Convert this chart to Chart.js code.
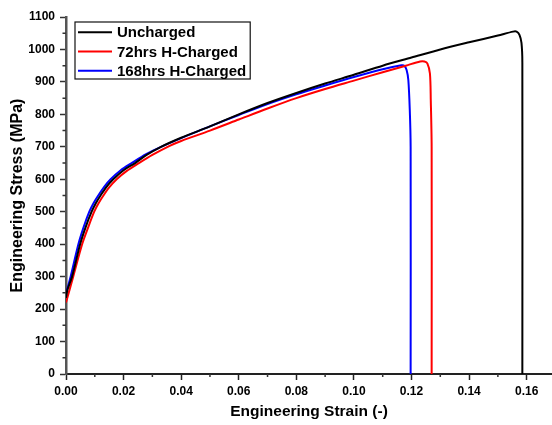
<!DOCTYPE html>
<html>
<head>
<meta charset="utf-8">
<script src="https://cdn.jsdelivr.net/npm/chart.js@4.4.0/dist/chart.umd.min.js"></script>
<style>
  html, body { margin: 0; padding: 0; background: #fff; }
  #wrap { width: 552px; height: 425px; }
</style>
</head>
<body>
<div id="wrap"><canvas id="stressChart" width="552" height="425"></canvas></div>
<script>
// --- Data ---
const SERIES_LABELS = ['Uncharged', '72hrs H-Charged', '168hrs H-Charged'];
const SERIES_COLORS = ['#000000', '#ff0000', '#0000ff'];

const unchargedStrain = [0, 0.0005, 0.0021, 0.0049, 0.0068, 0.0089, 0.0104, 0.012, 0.014, 0.0164, 0.020, 0.024,
    0.028, 0.033, 0.040, 0.050, 0.060, 0.070, 0.080, 0.090, 0.100, 0.110, 0.120, 0.130, 0.140, 0.150,
    0.1553, 0.1565, 0.1575, 0.1582, 0.1585, 0.1585];
const unchargedStress = [235, 260, 300, 400, 452, 500, 527, 550, 576, 600, 628, 650,
    675, 700, 728, 763, 800, 835, 866, 895, 922, 950, 975, 1000, 1022, 1043,
    1055, 1055, 1045, 1020, 960, 0];

const charged72Strain = [0, 0.0025, 0.0056, 0.0077, 0.0098, 0.0113, 0.013, 0.015, 0.0176, 0.021, 0.025, 0.030,
    0.036, 0.040, 0.050, 0.060, 0.070, 0.080, 0.090, 0.100, 0.110, 0.118, 0.123, 0.1245, 0.1255,
    0.1264, 0.1267, 0.1270, 0.1270];
const charged72Stress = [220, 300, 400, 452, 500, 526, 550, 575, 600, 625, 648, 675,
    703, 718, 750, 784, 818, 850, 878, 904, 930, 950, 963, 963, 957,
    926, 843, 700, 0];

const charged168Strain = [0, 0.0016, 0.0043, 0.0061, 0.0081, 0.0096, 0.0112, 0.0132, 0.0155, 0.019, 0.0228, 0.028,
    0.033, 0.040, 0.050, 0.060, 0.070, 0.080, 0.090, 0.100, 0.110, 0.1165, 0.1175, 0.1183,
    0.1189, 0.1194, 0.1197, 0.1197];
const charged168Stress = [248, 300, 400, 452, 500, 527, 550, 576, 600, 628, 650, 678,
    700, 727, 763, 798, 832, 862, 889, 915, 939, 951, 950, 937,
    906, 814, 700, 0];

const X_MAJOR_TICKS = [0, 0.02, 0.04, 0.06, 0.08, 0.10, 0.12, 0.14, 0.16];
const X_MINOR_TICKS = [0.01, 0.03, 0.05, 0.07, 0.09, 0.11, 0.13, 0.15];
const Y_MAJOR_TICKS = [0, 100, 200, 300, 400, 500, 600, 700, 800, 900, 1000, 1100];
const Y_MINOR_TICKS = [50, 150, 250, 350, 450, 550, 650, 750, 850, 950, 1050];

const FONT_FAMILY = '"Liberation Sans", Arial, sans-serif';

function toPoints(xs, ys) {
    return xs.map((x, i) => ({ x: x, y: ys[i] }));
}

// --- Plugins ---
const minorTicks = {
    id: 'minorTicks',
    afterDraw(chart) {
        const ctx = chart.ctx;
        const xs = chart.scales.x;
        const ys = chart.scales.y;
        ctx.save();
        ctx.strokeStyle = '#333';
        ctx.lineWidth = 1.5;
        ctx.beginPath();
        X_MINOR_TICKS.forEach(v => {
            const px = xs.getPixelForValue(v);
            ctx.moveTo(px, xs.top);
            ctx.lineTo(px, xs.top + 3);
        });
        Y_MINOR_TICKS.forEach(v => {
            const py = ys.getPixelForValue(v);
            ctx.moveTo(ys.right, py);
            ctx.lineTo(ys.right - 3.5, py);
        });
        ctx.stroke();
        ctx.restore();
    }
};

const boxLegend = {
    id: 'boxLegend',
    afterDraw(chart) {
        const ctx = chart.ctx;
        const area = chart.chartArea;
        const left = area.left + 9;
        const top = area.top + 5;
        const rowH = 19.2;
        ctx.save();
        ctx.font = 'bold 15px ' + FONT_FAMILY;
        const widths = chart.data.datasets.map(ds => ctx.measureText(ds.label).width);
        const boxW = 42 + Math.max(...widths) + 4;
        const boxH = 57;
        ctx.fillStyle = '#fff';
        ctx.fillRect(left, top, boxW, boxH);
        ctx.strokeStyle = '#111';
        ctx.lineWidth = 1.2;
        ctx.strokeRect(left, top, boxW, boxH);
        chart.data.datasets.forEach((ds, i) => {
            const cy = top + 10.3 + i * rowH;
            ctx.strokeStyle = ds.borderColor;
            ctx.lineWidth = 2;
            ctx.beginPath();
            ctx.moveTo(left + 3, cy);
            ctx.lineTo(left + 37, cy);
            ctx.stroke();
            ctx.fillStyle = '#000';
            ctx.textBaseline = 'middle';
            ctx.textAlign = 'left';
            ctx.fillText(ds.label, left + 42, cy + 1);
        });
        ctx.restore();
    }
};

// --- Chart ---
Chart.defaults.font.family = FONT_FAMILY;
Chart.defaults.color = '#000';

const seriesStrain = [unchargedStrain, charged72Strain, charged168Strain];
const seriesStress = [unchargedStress, charged72Stress, charged168Stress];

const datasets = SERIES_LABELS.map((label, i) => ({
    label: label,
    data: toPoints(seriesStrain[i], seriesStress[i]),
    borderColor: SERIES_COLORS[i],
    backgroundColor: SERIES_COLORS[i],
    borderWidth: 2,
    pointRadius: 0,
    showLine: true,
    tension: 0.3
}));

new Chart(document.getElementById('stressChart'), {
    type: 'scatter',
    data: { datasets },
    plugins: [minorTicks, boxLegend],
    options: {
        responsive: false,
        animation: false,
        devicePixelRatio: 1,
        layout: { padding: { top: 17, right: 0, left: 0, bottom: 0 } },
        plugins: {
            legend: { display: false },
            tooltip: { enabled: false }
        },
        scales: {
            x: {
                type: 'linear',
                min: 0,
                max: 0.1688,
                afterFit(scale) { scale.height = 51; },
                afterBuildTicks(scale) { scale.ticks = X_MAJOR_TICKS.map(v => ({ value: v })); },
                border: { display: true, color: '#222', width: 2 },
                grid: { drawOnChartArea: false, drawTicks: true, tickLength: 6, tickColor: '#222', tickWidth: 1.5 },
                ticks: {
                    autoSkip: false,
                    maxRotation: 0,
                    padding: 4,
                    font: { size: 12, weight: 'bold' },
                    callback: v => v.toFixed(2)
                },
                title: {
                    display: true,
                    text: 'Engineering Strain (-)',
                    font: { size: 15.5, weight: 'bold' },
                    padding: { top: 0, bottom: 4 }
                }
            },
            y: {
                type: 'linear',
                min: 0,
                max: 1100,
                afterFit(scale) { scale.width = 66; },
                afterBuildTicks(scale) { scale.ticks = Y_MAJOR_TICKS.map(v => ({ value: v })); },
                border: { display: true, color: '#555', width: 2.5 },
                grid: { drawOnChartArea: false, drawTicks: true, tickLength: 6, tickColor: '#333', tickWidth: 1.5 },
                ticks: {
                    autoSkip: false,
                    padding: 5,
                    font: { size: 12, weight: 'bold' },
                    callback: v => String(v)
                },
                title: {
                    display: true,
                    text: 'Engineering Stress (MPa)',
                    font: { size: 16, weight: 'bold' },
                    padding: { top: 8, bottom: 0 }
                }
            }
        }
    }
});
</script>
</body>
</html>
